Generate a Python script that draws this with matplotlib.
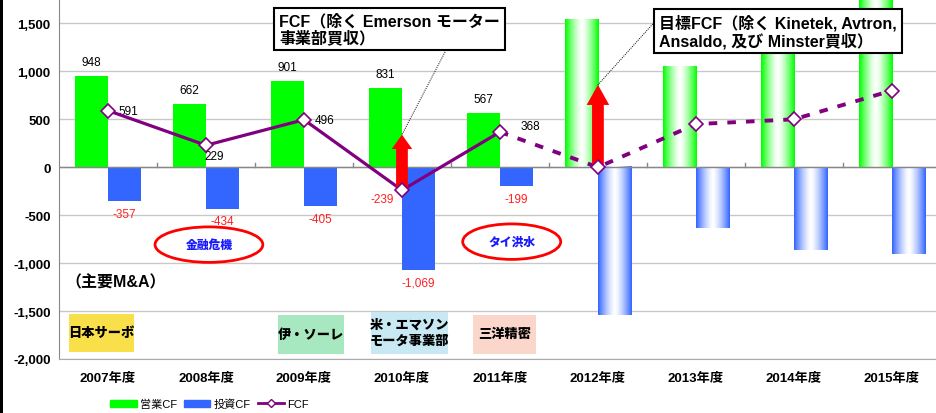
import matplotlib.pyplot as plt
import numpy as np
from matplotlib.patches import Ellipse, Rectangle, FancyArrow
from matplotlib.lines import Line2D
from matplotlib.patches import Patch

plt.rcParams['font.family'] = ['Liberation Sans', 'Noto Sans CJK JP', 'DejaVu Sans']

years = ['2007年度', '2008年度', '2009年度', '2010年度', '2011年度',
         '2012年度', '2013年度', '2014年度', '2015年度']
op_cf = [948, 662, 901, 831, 567, 1540, 1050, 1350, 1800]
inv_cf = [-357, -434, -405, -1069, -199, -1545, -630, -860, -900]
fcf = [591, 229, 496, -239, 368, 0, 450, 500, 800]
n_actual = 5  # 2007-2011 actual, rest plan
# FCF excluding acquisitions (arrow tips)
adj_idx = [3, 5]
adj_fcf = [340, 860]

ma_labels = ['日本サーボ', '伊・ソーレ', '米・エマソン\nモータ事業部', '三洋精密']
ma_colors = ['#f9e04b', '#a8e8c0', '#c8e9f3', '#fad6cb']

GREEN = '#00ff00'
BLUE = '#3366ff'
PURPLE = '#800080'

fig = plt.figure(figsize=(9.36, 4.14), dpi=100)
ax = fig.add_axes([59/936, 54/414, 1 - 59/936, 360/414])
x = np.arange(len(years))
w = 0.337


def grad_bar(ax, xc, width, y0, y1, color):
    rgb = np.array(plt.matplotlib.colors.to_rgb(color))
    t = np.linspace(-1, 1, 64)
    k = np.abs(t) ** 1.4
    img = (1 - k)[:, None] * np.ones(3) + k[:, None] * rgb
    ax.imshow(img[None, :, :], extent=[xc - width/2, xc + width/2, y0, y1],
              aspect='auto', zorder=2, interpolation='bilinear')


for i in range(len(years)):
    if i < n_actual:
        ax.bar(x[i] - w/2, op_cf[i], w, color=GREEN, zorder=2)
        ax.bar(x[i] + w/2, inv_cf[i], w, color=BLUE, zorder=2)
        ax.annotate(f'{op_cf[i]:,}', (x[i] - w/2, op_cf[i]), xytext=(0, 10),
                    textcoords='offset points', ha='center', va='center', fontsize=8.5)
        ax.annotate(f'{inv_cf[i]:,}', (x[i] + w/2, inv_cf[i]), xytext=(0, -9),
                    textcoords='offset points', ha='center', va='center',
                    fontsize=8.5, color='#ff2020')
    else:
        grad_bar(ax, x[i] - w/2, w, 0, op_cf[i], GREEN)
        grad_bar(ax, x[i] + w/2, w, inv_cf[i], 0, BLUE)

# FCF line
ax.plot(x[:n_actual], fcf[:n_actual], color=PURPLE, lw=2.3, zorder=4)
ax.plot(x[n_actual-1:], fcf[n_actual-1:], color=PURPLE, lw=2.8, ls=(0, (2.2, 2.6)), zorder=4)
ax.plot(x, fcf, ls='none', marker='D', ms=7, mfc='white', mec=PURPLE, mew=1.2, zorder=6)

fcf_off = [(15, 0), (6, -8), (15, 0), (-14, -6), (22, 4)]
for i in range(n_actual):
    col = '#ff2020' if fcf[i] < 0 else 'black'
    ax.annotate(f'{fcf[i]:,}', (x[i], fcf[i]), xytext=fcf_off[i], textcoords='offset points',
                ha='center', va='center', fontsize=8.5, color=col)

# red arrows
for i, v in zip(adj_idx, adj_fcf):
    base = fcf[i]
    hl = 150 if i == 3 else 210
    hw = 0.21 if i == 3 else 0.23
    ax.add_patch(FancyArrow(x[i], base, 0, v - base, width=0.12, head_width=hw,
                            head_length=hl, length_includes_head=True,
                            color='#ff0000', lw=0, zorder=5))

# callouts
ax.plot([3.44, x[3]], [1203, adj_fcf[0]], color='black', lw=0.7, ls=(0, (1, 1.2)), zorder=7)
ax.plot([5.56, x[5]], [1495, adj_fcf[1]], color='black', lw=0.7, ls=(0, (1, 1.2)), zorder=7)
box = dict(boxstyle='square,pad=0.3', fc='white', ec='black', lw=1.5)
fig.text(279/936, 1 - 14/414, 'FCF（除く Emerson モーター\n事業部買収）', ha='left', va='top',
         fontsize=11.5, fontweight='bold', bbox=box, linespacing=1.1, zorder=10)
fig.text(659/936, 1 - 15/414, '目標FCF（除く Kinetek, Avtron,\nAnsaldo, 及び Minster買収）',
         ha='left', va='top', fontsize=11.5, fontweight='bold', bbox=box,
         linespacing=1.1, zorder=10)

# ellipses
for xc, yc, wd, txt in [(1.03, -807, 1.10, '金融危機'), (4.12, -776, 1.00, 'タイ洪水')]:
    ax.add_patch(Ellipse((xc, yc), wd, 370, fill=False, ec='#ff0000', lw=2, zorder=5))
    ax.text(xc, yc, txt, ha='center', va='center', color='#1a1aff', fontsize=8.5,
            fontweight='heavy', zorder=6)

ax.text(-0.43, -1195, '（主要M&A）', ha='left', va='center', fontsize=11.5, fontweight='bold')

ma_boxes = [(-0.40, 0.265, -1526, -1932), (1.735, 2.408, -1536, -1943),
            (2.684, 3.469, -1505, -1943), (3.724, 4.367, -1536, -1943)]
for (x0, x1, y0, y1), lab, c in zip(ma_boxes, ma_labels, ma_colors):
    ax.add_patch(Rectangle((x0, y1), x1 - x0, y0 - y1, fc=c, ec='none', zorder=3))
    ax.text((x0 + x1) / 2, (y0 + y1) / 2, lab, ha='center', va='center', fontsize=9.5,
            fontweight='heavy', linespacing=1.35, zorder=4)

# axes styling
ax.set_xlim(-0.5, 8.45)
ax.set_ylim(-2000, 1755)
ax.set_yticks(np.arange(-2000, 1501, 500))
ax.set_yticklabels([f'{v:,}' for v in range(-2000, 1501, 500)], fontweight='bold', fontsize=9.5)
ax.yaxis.grid(True, color='#c8c8c8', lw=1)
ax.set_axisbelow(True)
ax.set_xticks(x)
ax.set_xticklabels(years, fontweight='bold', fontsize=9.5)
ax.tick_params(axis='x', length=0, pad=9)
ax.tick_params(axis='y', length=0, pad=6)
for s in ['top', 'right']:
    ax.spines[s].set_visible(False)
ax.spines['left'].set_color('#888888')
ax.spines['bottom'].set_color('#aaaaaa')
ax.axhline(0, color='#888888', lw=1, zorder=3)
for b in np.arange(0.5, 8.5, 1):
    ax.plot([b, b], [0, 45], color='#888888', lw=1, zorder=3)

handles = [Patch(color=GREEN), Patch(color=BLUE),
           Line2D([], [], color=PURPLE, lw=2, marker='D', ms=4, mfc='white', mec=PURPLE)]
fig.legend(handles, ['営業CF', '投資CF', 'FCF'], loc='lower left',
           bbox_to_anchor=(100/936, -0.015), ncol=3, frameon=False, fontsize=8,
           handlelength=2.4, handleheight=0.6, handletextpad=0.3, columnspacing=0.6)

fig.add_artist(Rectangle((0, 0), 3/936, 1, transform=fig.transFigure, fc='black', ec='none'))

fig.savefig('out.png', dpi=100)
